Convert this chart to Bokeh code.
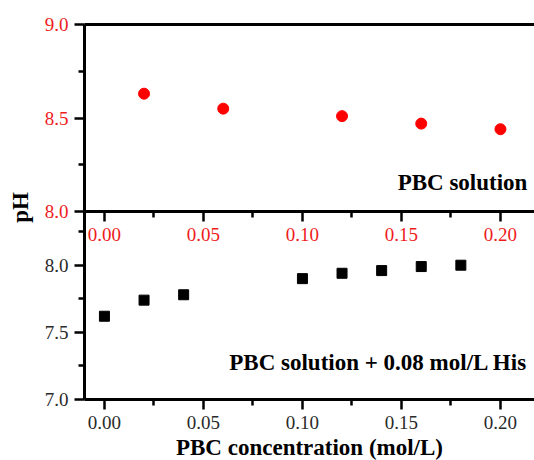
import math
from bokeh.plotting import figure
from bokeh.models import (Range1d, LinearAxis, FixedTicker, NumeralTickFormatter,
                          Label)
from bokeh.embed import file_html
from bokeh.resources import INLINE

# ---- data ----
x_pbc = [0.02, 0.06, 0.12, 0.16, 0.20]
ph_pbc = [8.63, 8.55, 8.51, 8.47, 8.44]
x_his = [0.00, 0.02, 0.04, 0.10, 0.12, 0.14, 0.16, 0.18]
ph_his = [7.62, 7.74, 7.78, 7.90, 7.94, 7.96, 7.99, 8.00]

x_ticks = [0.00, 0.05, 0.10, 0.15, 0.20]
x_minor = [0.025, 0.075, 0.125, 0.175]
top_ticks = [8.0, 8.5, 9.0]
top_minor = [8.25, 8.75]
bot_ticks = [7.0, 7.5, 8.0]
bot_minor = [7.25, 7.75, 8.25]

label_top = "PBC solution"
label_bot = "PBC solution + 0.08 mol/L His"
x_title = "PBC concentration (mol/L)"
y_title = "pH"

FONT = "Liberation Serif"
RED = "#ee1c1c"
TICK_TXT = "#2a2a2a"

# ---- geometry (the whole canvas is the frame; axes are drawn inside it) ----
W, H = 534, 460
ax_top_px, split_px, ax_bot_px = 24, 211, 399
bot_start, bot_split = 7.0, 8.4
top_split, top_end = 8.0, 9.0
k_bot = (ax_bot_px - split_px) / (bot_split - bot_start)   # px per pH unit
k_top = (split_px - ax_top_px) / (top_end - top_split)
main_lo = bot_start - (H - ax_bot_px) / k_bot
main_hi = bot_start + ax_bot_px / k_bot
top_lo = top_split - (H - split_px) / k_top
top_hi = top_end + ax_top_px / k_top
x_start, x_end = -0.0101, 0.2172
x_left = -0.0525

p = figure(width=W, height=H, output_backend="svg", toolbar_location=None,
           x_range=Range1d(x_left, x_end), y_range=Range1d(main_lo, main_hi),
           x_axis_location=None, y_axis_location=None,
           min_border_left=0, min_border_right=0, min_border_top=0,
           min_border_bottom=0)
p.extra_y_ranges = {"top": Range1d(top_lo, top_hi)}
p.outline_line_color = None
p.xgrid.visible = False
p.ygrid.visible = False
p.background_fill_color = "white"
p.border_fill_color = "white"


def style(ax, color):
    ax.axis_line_width = 3
    ax.axis_line_color = "black"
    ax.major_tick_line_width = 2.5
    ax.minor_tick_line_width = 2.5
    ax.major_tick_line_color = "black"
    ax.minor_tick_line_color = "black"
    ax.major_tick_in = 0
    ax.minor_tick_in = 0
    ax.major_tick_out = 10
    ax.minor_tick_out = 6
    ax.major_label_text_font = FONT
    ax.major_label_text_font_size = "19px"
    ax.major_label_text_color = color


# bottom x axis
xa = LinearAxis(fixed_location=bot_start,
                ticker=FixedTicker(ticks=x_ticks, minor_ticks=x_minor),
                formatter=NumeralTickFormatter(format="0.00"))
style(xa, TICK_TXT)
xa.bounds = (x_start, x_end)
xa.major_label_standoff = 6
p.add_layout(xa, "below")

# left axis, lower panel (black labels); its line runs the full height
ya = LinearAxis(fixed_location=x_start,
                ticker=FixedTicker(ticks=bot_ticks, minor_ticks=bot_minor),
                formatter=NumeralTickFormatter(format="0.0"))
style(ya, TICK_TXT)
ya.bounds = (bot_start, main_hi - ax_top_px / k_bot)
ya.major_label_standoff = 6
p.add_layout(ya, "left")

# left axis, upper panel (red labels)
ya2 = LinearAxis(y_range_name="top", fixed_location=x_start,
                 ticker=FixedTicker(ticks=top_ticks, minor_ticks=top_minor),
                 formatter=NumeralTickFormatter(format="0.0"))
style(ya2, RED)
ya2.axis_line_color = None
ya2.bounds = (top_split, top_end)
ya2.major_label_standoff = 6
p.add_layout(ya2, "left")

# divider x axis (upper panel, red labels)
xa2 = LinearAxis(y_range_name="top", fixed_location=top_split,
                 ticker=FixedTicker(ticks=x_ticks, minor_ticks=x_minor),
                 formatter=NumeralTickFormatter(format="0.00"))
style(xa2, RED)
xa2.bounds = (x_start, x_end)
xa2.major_label_standoff = 6
p.add_layout(xa2, "below")

# top frame line
xa3 = LinearAxis(y_range_name="top", fixed_location=top_end,
                 ticker=FixedTicker(ticks=[]))
style(xa3, RED)
xa3.bounds = (x_start, x_end)
p.add_layout(xa3, "above")

# axis titles
p.add_layout(Label(x=(x_start + x_end) / 2, y=bot_start - (447 - ax_bot_px) / k_bot,
                   text=x_title, text_align="center", text_baseline="middle",
                   text_font=FONT, text_font_style="bold", text_font_size="23px",
                   text_color="black"))
p.add_layout(Label(x=-0.0424, y=bot_start + (ax_bot_px - 207) / k_bot,
                   text=y_title, angle=math.pi / 2,
                   text_align="center", text_baseline="middle", text_font=FONT,
                   text_font_style="bold", text_font_size="23px",
                   text_color="black"))

# data
p.scatter(x_pbc, ph_pbc, y_range_name="top", marker="circle", size=11,
          fill_color="red", line_color="red")
p.scatter(x_his, ph_his, marker="square", size=10,
          fill_color="black", line_color="black")

# annotations
p.add_layout(Label(x=0.2136, y=8.155, y_range_name="top", text=label_top,
                   text_align="right", text_baseline="middle", text_font=FONT,
                   text_font_style="bold", text_font_size="23px",
                   text_color="black"))
p.add_layout(Label(x=0.2136, y=7.276, text=label_bot,
                   text_align="right", text_baseline="middle", text_font=FONT,
                   text_font_style="bold", text_font_size="23px",
                   text_color="black"))

open("out.html", "w").write(file_html(p, INLINE))
